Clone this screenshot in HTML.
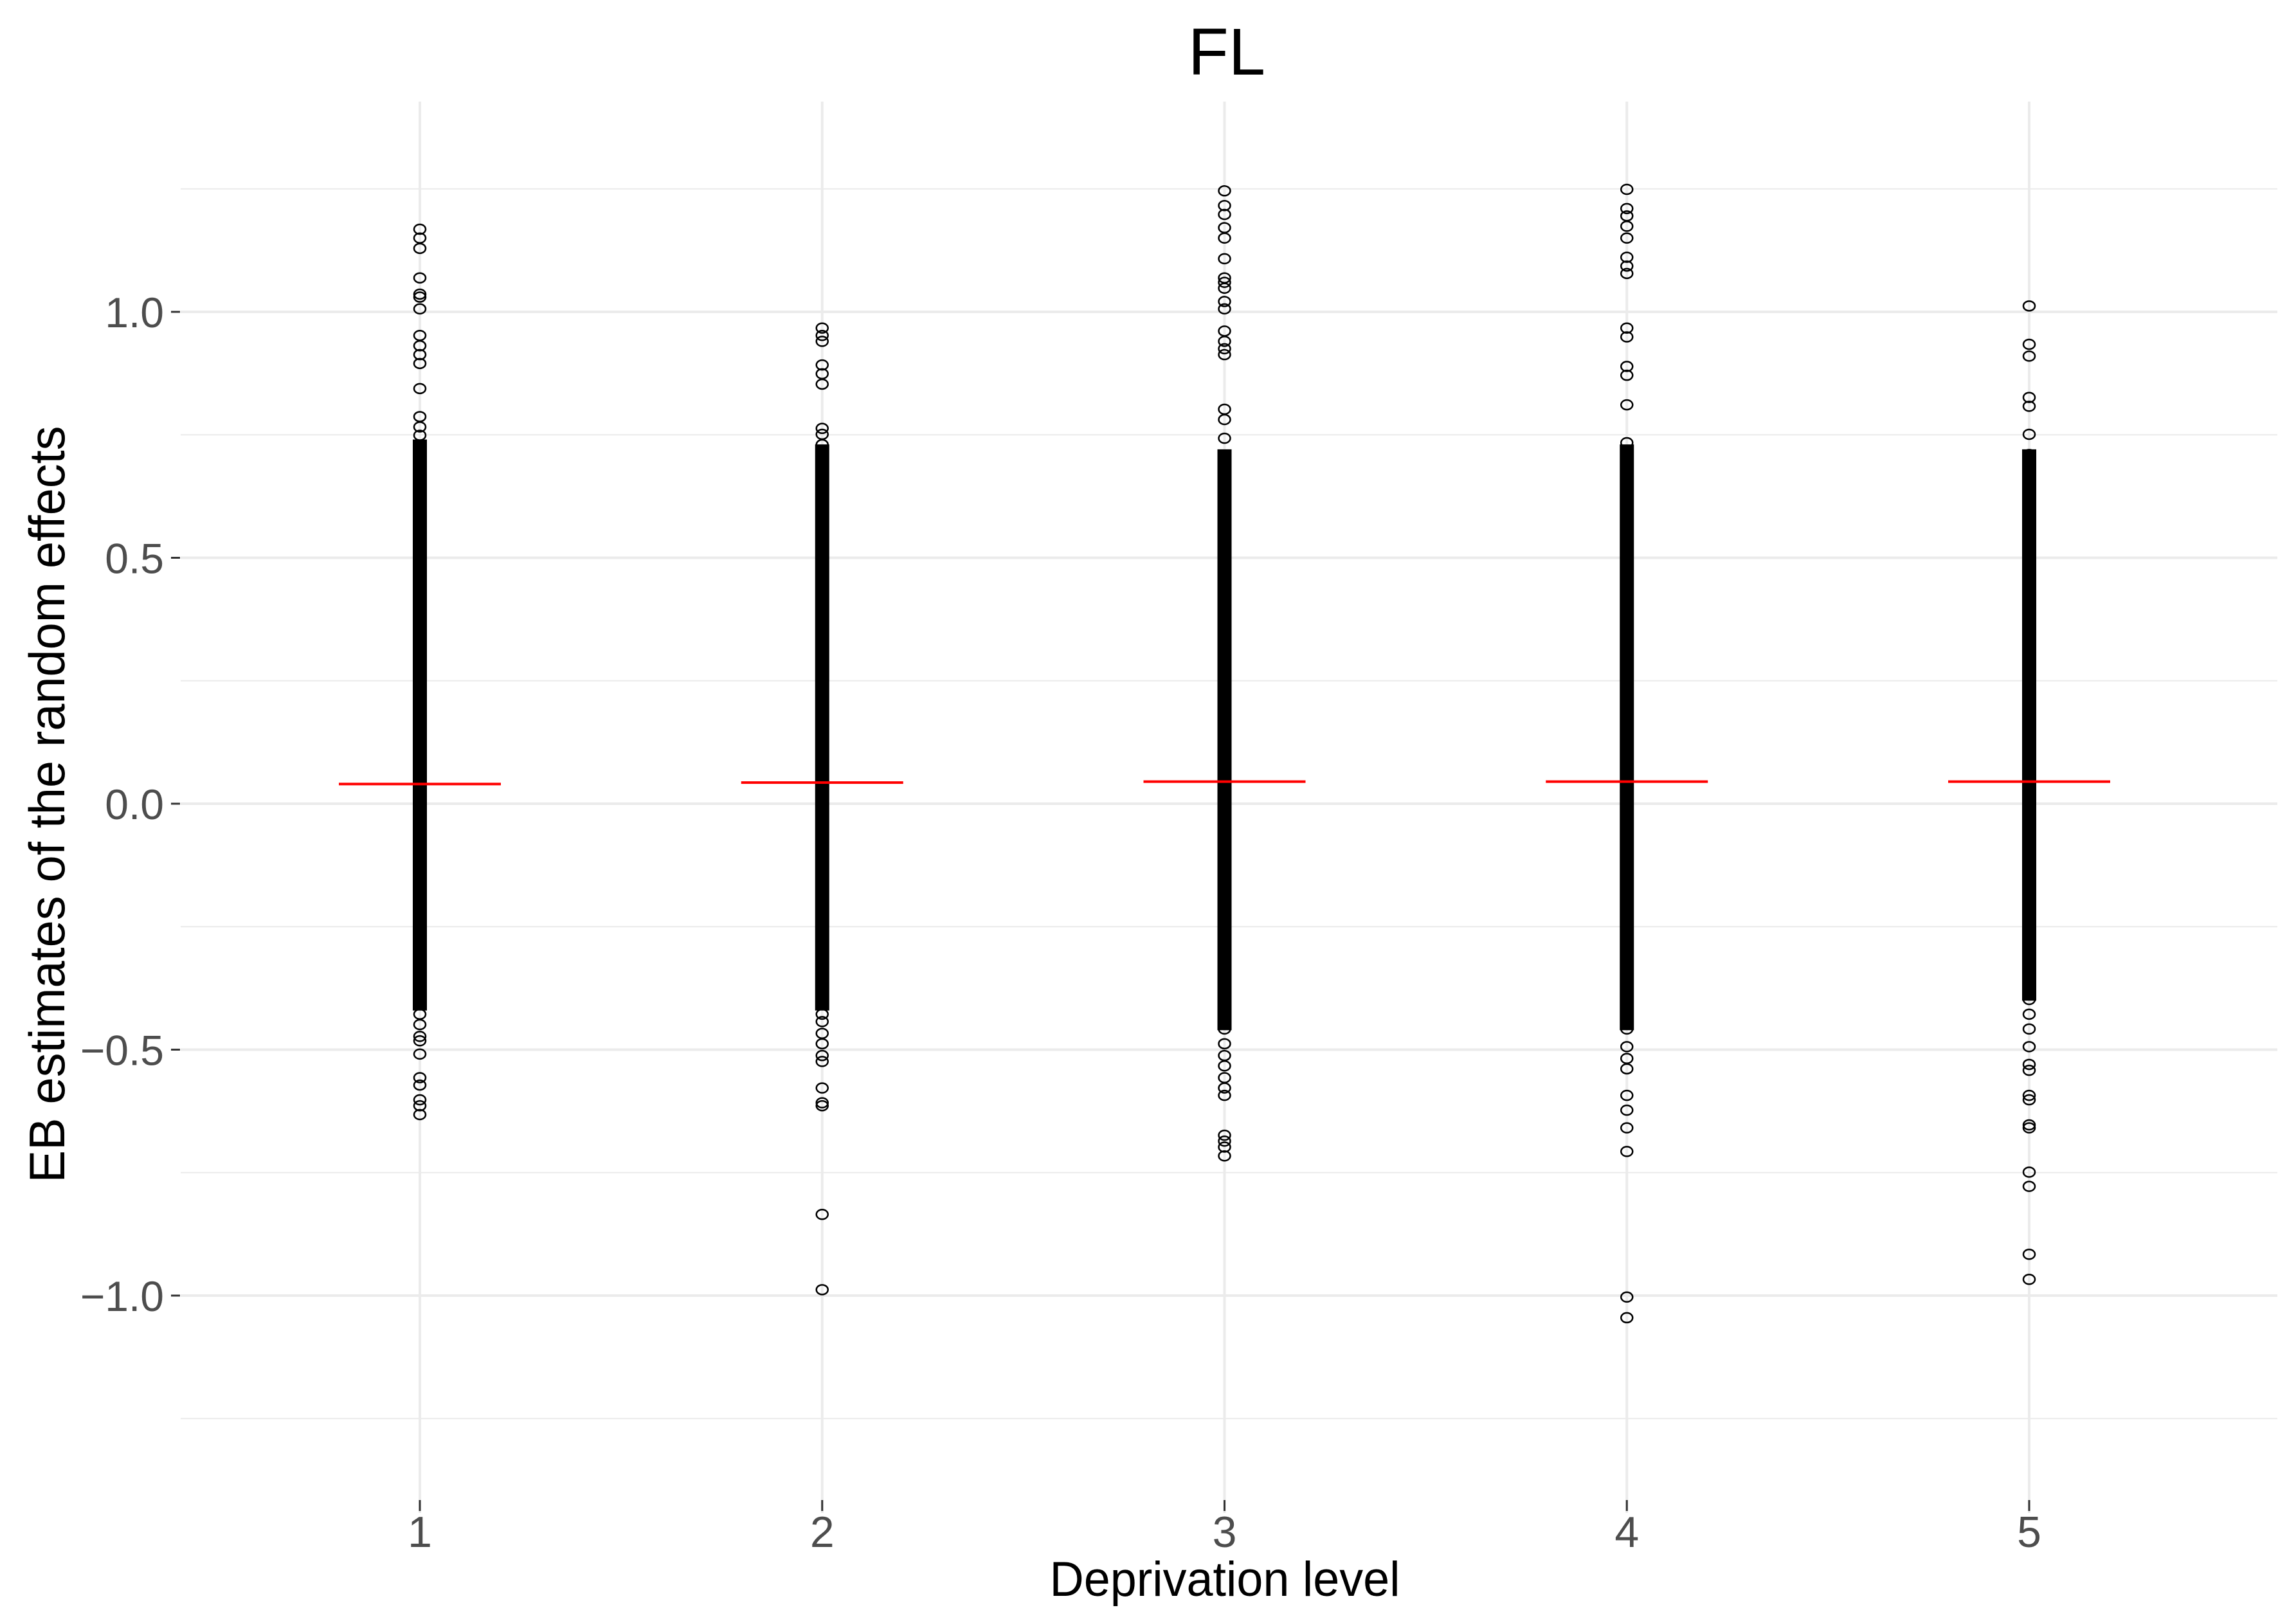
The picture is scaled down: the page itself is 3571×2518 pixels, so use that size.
<!DOCTYPE html>
<html><head><meta charset="utf-8"><style>
html,body{margin:0;padding:0;background:#fff;}
svg{display:block;font-family:"Liberation Sans",sans-serif;}
</style></head><body>
<svg id="chart" width="3571" height="2518" viewBox="0 0 3571 2518" xmlns="http://www.w3.org/2000/svg">
<rect width="3571" height="2518" fill="#fff"/>
<g id="grid"></g>
<g id="marks"></g>
<g id="axes"></g>
<text x="1908" y="116" font-size="103" text-anchor="middle" fill="#000">FL</text>
<text x="1905" y="2482" font-size="76" text-anchor="middle" textLength="545" lengthAdjust="spacingAndGlyphs" fill="#000">Deprivation level</text>
<text transform="translate(100,1251) rotate(-90)" font-size="78" text-anchor="middle" textLength="1177" lengthAdjust="spacingAndGlyphs" fill="#000">EB estimates of the random effects</text>
</svg>
<script>
const categories = ["1","2","3","4","5"];
const yTicks = [-1.0, -0.5, 0.0, 0.5, 1.0];
const yTickLabels = ["\u22121.0","\u22120.5","0.0","0.5","1.0"];
const yMinor = [-1.25, -0.75, -0.25, 0.25, 0.75, 1.25];
const means = [0.040, 0.043, 0.045, 0.045, 0.045];
const denseLow = [-0.41, -0.41, -0.45, -0.45, -0.39];
const denseHigh = [0.73, 0.72, 0.71, 0.72, 0.71];
const outliers1 = [1.168,1.15,1.129,1.069,1.036,1.03,1.006,0.952,0.931,0.913,0.895,0.844,0.787,0.766,0.749,-0.428,-0.449,-0.473,-0.482,-0.509,-0.557,-0.572,-0.602,-0.614,-0.632];
const outliers2 = [0.967,0.952,0.94,0.892,0.874,0.853,0.763,0.751,0.73,-0.428,-0.443,-0.467,-0.488,-0.512,-0.524,-0.578,-0.608,-0.614,-0.835,-0.988];
const outliers3 = [1.246,1.216,1.198,1.171,1.15,1.108,1.069,1.06,1.048,1.021,1.006,0.961,0.94,0.925,0.913,0.802,0.781,0.743,-0.458,-0.488,-0.512,-0.533,-0.557,-0.578,-0.593,-0.674,-0.686,-0.698,-0.716];
const outliers4 = [1.249,1.21,1.195,1.174,1.15,1.111,1.093,1.078,0.967,0.949,0.889,0.871,0.811,0.734,-0.458,-0.494,-0.518,-0.539,-0.593,-0.623,-0.659,-0.707,-1.003,-1.045];
const outliers5 = [1.012,0.934,0.91,0.826,0.808,0.751,0.71,-0.398,-0.428,-0.458,-0.494,-0.530,-0.542,-0.593,-0.602,-0.653,-0.659,-0.749,-0.778,-0.916,-0.967];
const outliers = [outliers1, outliers2, outliers3, outliers4, outliers5];

const NS = "http://www.w3.org/2000/svg";
const PL = 281, PR = 3542, PT = 158, PB = 2353;
function xScale(i){ return 653 + i * 625.75; }
function yScale(v){ return 1250 - v * 765; }
function mk(tag, attrs, parent){
  const e = document.createElementNS(NS, tag);
  for (const k in attrs) e.setAttribute(k, attrs[k]);
  parent.appendChild(e); return e;
}
const grid = document.getElementById('grid');
const marks = document.getElementById('marks');
const axes = document.getElementById('axes');

yMinor.forEach(v => {
  const l = mk('line', {x1:PL, x2:PR, y1:yScale(v), y2:yScale(v), stroke:'#ebebeb', 'stroke-width':2}, grid);
  
  
});
yTicks.forEach((v, i) => {
  const l = mk('line', {x1:PL, x2:PR, y1:yScale(v), y2:yScale(v), stroke:'#ebebeb', 'stroke-width':4}, grid);
  
  
  const t = mk('line', {x1:266, x2:280, y1:yScale(v), y2:yScale(v), stroke:'#333', 'stroke-width':3}, axes);
  
  
  const tx = mk('text', {x:255, y:yScale(v) + 24, 'font-size':66, 'text-anchor':'end', fill:'#4d4d4d'}, axes);
  tx.textContent = yTickLabels[i];
  
  
});
categories.forEach((c, i) => {
  const x = xScale(i);
  const l = mk('line', {x1:x, x2:x, y1:PT, y2:PB, stroke:'#ebebeb', 'stroke-width':4}, grid);
  
  
  const t = mk('line', {x1:x, x2:x, y1:2333, y2:2350, stroke:'#333', 'stroke-width':3}, axes);
  
  
  const tx = mk('text', {x:x, y:2406, 'font-size':68, 'text-anchor':'middle', fill:'#4d4d4d'}, axes);
  tx.textContent = c;
  
  

  const band = mk('rect', {x:x - 11, y:yScale(denseHigh[i]) - 8, width:22, height:yScale(denseLow[i]) - yScale(denseHigh[i]) + 16, fill:'#000'}, marks);
  
  
  outliers[i].forEach(v => {
    const p = mk('ellipse', {cx:x, cy:yScale(v), rx:9, ry:7.5, fill:'none', stroke:'#000', 'stroke-width':2.5}, marks);
    
    
  });
  const m = mk('line', {x1:x - 126, x2:x + 126, y1:yScale(means[i]), y2:yScale(means[i]), stroke:'#ff0000', 'stroke-width':4}, marks);
  
  
});
</script>
</body></html>
